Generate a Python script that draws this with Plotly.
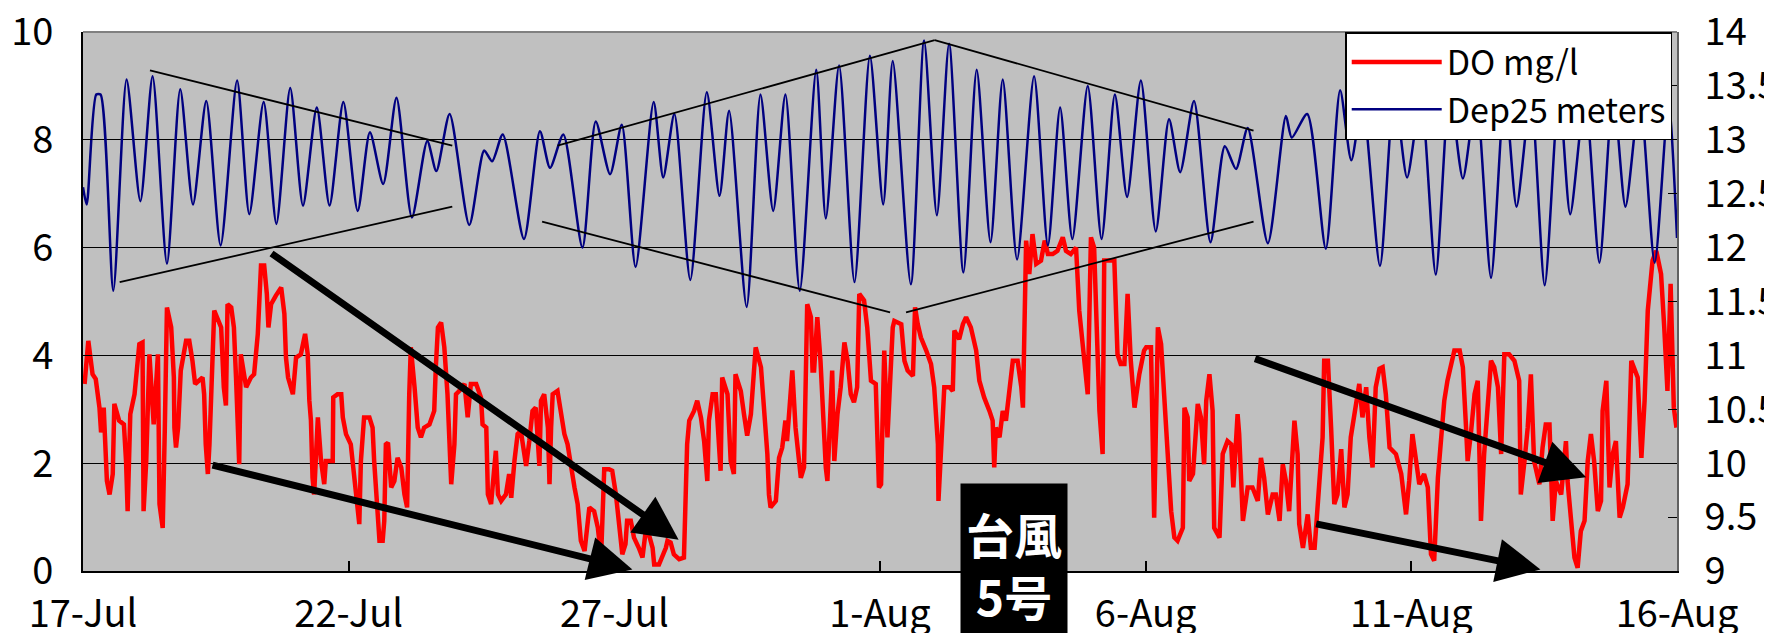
import numpy as np
import pandas as pd
import plotly.graph_objects as go

BASE = pd.Timestamp("2005-07-17")

# ---- DO (mg/l), left axis: (day offset from 17-Jul, value)
do_day = [0.03,0.10,0.14,0.18,0.24,0.28,0.31,0.34,0.39,0.41,0.45,0.50,0.56,0.59,0.68,0.77,0.81,0.84,0.89,0.97,
1.03,1.06,1.12,1.14,1.19,1.22,1.25,1.33,1.41,1.44,1.50,1.54,1.58,1.66,1.71,1.72,1.75,1.79,1.84,1.94,
2.00,2.06,2.11,2.25,2.28,2.31,2.35,2.38,2.41,2.44,2.47,2.60,2.61,2.65,2.69,2.72,2.79,2.84,2.88,2.94,
2.97,3.04,3.07,3.16,3.22,3.29,3.32,3.35,3.41,3.46,3.49,3.54,3.63,3.73,3.79,3.82,3.86,3.95,4.01,4.10,
4.18,4.23,4.26,4.29,4.32,4.35,4.42,4.48,4.54,4.57,4.70,4.71,4.79,4.86,4.89,4.95,
5.04,5.14,5.20,5.23,5.29,5.39,5.45,5.48,5.53,5.58,5.64,5.67,5.70,5.74,5.80,5.86,5.92,5.99,6.05,6.10,
6.14,6.17,6.24,6.30,6.36,6.42,6.52,6.61,6.64,6.68,6.74,6.80,6.86,6.89,6.93,6.99,7.02,7.08,7.18,7.24,
7.30,7.40,7.49,7.52,7.59,7.62,7.68,7.77,7.81,7.87,7.96,8.02,8.06,8.12,8.18,8.24,8.34,8.40,8.46,8.52,
8.59,8.62,8.68,8.75,8.78,8.81,8.84,8.93,9.00,9.06,9.12,9.18,9.25,9.31,9.37,9.44,9.53,9.62,9.69,9.75,
9.78,9.81,9.90,9.96,10.03,10.09,10.15,10.21,10.24,10.31,10.37,10.46,10.53,10.59,10.65,10.72,10.75,10.84,10.90,10.97,
11.00,11.06,11.12,11.22,11.31,11.34,11.37,11.41,11.50,11.56,11.63,11.69,11.75,11.78,11.85,11.91,11.97,12.00,12.03,12.13,
12.19,12.25,12.28,12.38,12.44,12.50,12.57,12.63,12.66,12.76,12.82,12.88,12.91,12.94,13.04,13.10,13.16,13.22,13.25,13.32,
13.35,13.41,13.47,13.51,13.57,13.60,13.63,13.70,13.73,13.76,13.82,13.88,13.91,13.98,14.01,14.07,14.10,14.14,14.20,14.26,
14.33,14.39,14.45,14.51,14.57,14.61,14.70,14.76,14.83,14.92,14.95,14.98,
15.02,15.05,15.08,15.14,15.18,15.24,15.27,15.33,15.40,15.46,15.52,15.62,15.66,15.71,15.77,15.87,15.96,16.02,16.09,16.10,
16.15,16.21,16.31,16.37,16.40,16.49,16.56,16.62,16.71,16.81,16.87,16.96,17.06,17.12,17.15,17.18,17.25,17.31,17.37,17.43,
17.50,17.59,17.66,17.69,17.72,17.75,17.81,17.87,17.94,18.03,18.10,18.16,18.25,18.34,18.44,18.50,18.59,18.69,18.75,18.81,
18.91,18.97,19.03,19.13,19.19,19.22,19.32,19.41,19.47,19.53,19.60,19.63,19.66,19.72,19.79,19.88,19.97,
20.01,20.10,20.16,20.23,20.29,20.35,20.41,20.48,20.54,20.60,20.70,20.73,20.79,20.82,20.89,20.95,20.98,21.04,21.10,21.14,
21.20,21.26,21.29,21.39,21.45,21.54,21.61,21.65,21.73,21.76,21.83,21.92,22.01,22.11,22.17,22.23,22.30,22.39,22.45,22.52,
22.58,22.64,22.70,22.80,22.86,22.89,22.96,23.05,23.11,23.18,23.21,23.27,23.33,23.36,23.43,23.49,23.55,23.61,23.68,23.74,
23.80,23.86,23.93,24.02,24.08,24.15,24.21,24.27,24.33,24.40,24.46,24.52,24.59,24.71,24.81,24.90,24.96,25.02,
25.09,25.15,25.24,25.31,25.37,25.43,25.50,25.56,25.62,25.68,25.75,25.81,25.91,25.97,26.03,26.06,26.12,26.19,26.25,26.31,
26.37,26.44,26.50,26.56,26.63,26.69,26.75,26.84,26.94,27.03,27.06,27.13,27.19,27.25,27.31,27.41,27.47,27.53,27.60,27.66,
27.72,27.82,27.91,27.94,28.01,28.07,28.13,28.19,28.26,28.32,28.38,28.44,28.51,28.57,28.60,28.67,28.73,28.79,28.85,28.92,
28.98,29.07,29.14,29.26,29.33,29.39,29.45,29.54,29.61,29.70,29.76,29.82,29.88,29.94,29.99]
do_val = [3.47,4.27,3.96,3.65,3.56,3.28,3.03,2.57,3.03,2.57,1.67,1.42,1.80,3.10,2.79,2.72,2.04,1.11,2.91,3.28,
4.02,4.21,4.24,1.11,2.04,3.53,4.02,2.72,4.02,1.24,0.80,2.66,4.89,4.52,3.59,2.66,2.29,2.66,3.72,4.27,
4.27,3.90,3.47,3.59,3.28,2.35,1.80,2.35,3.28,4.33,4.83,4.52,4.21,3.41,3.07,4.95,4.89,4.52,3.59,1.98,
4.02,3.59,3.41,3.59,3.65,4.40,5.26,5.67,5.67,5.14,4.52,4.95,5.11,5.26,4.77,3.96,3.59,3.28,3.96,4.02,
4.40,4.02,3.16,2.79,1.73,1.42,2.85,2.04,1.61,2.04,2.04,3.22,3.28,3.28,2.85,2.54,
2.35,1.42,0.87,2.04,2.85,2.85,2.66,2.04,1.24,0.56,0.56,0.93,2.35,2.38,1.55,1.67,2.10,1.92,1.42,1.18,
3.28,4.15,3.41,2.66,2.48,2.66,2.72,2.97,3.78,4.52,4.61,4.15,3.28,2.29,1.61,2.35,3.28,3.34,3.47,2.85,
3.47,3.47,3.22,2.72,2.66,1.42,1.24,2.23,1.42,1.30,1.42,1.80,1.36,2.04,2.54,2.60,1.95,2.41,2.97,3.03,
1.95,3.16,3.28,2.66,1.61,2.66,3.28,3.34,2.97,2.54,2.35,1.92,1.55,1.24,0.56,0.37,1.18,1.11,0.80,0.25,
1.42,1.89,1.89,1.86,1.42,0.80,0.31,0.50,0.93,0.93,0.62,0.43,0.25,0.74,0.68,0.43,0.12,0.12,0.25,0.43,
0.56,0.53,0.31,0.22,0.25,1.11,2.35,2.79,2.97,3.16,2.85,2.41,1.67,2.79,3.28,3.28,2.41,1.86,3.59,3.28,
2.04,1.80,3.65,3.34,2.91,2.51,2.91,3.90,4.15,3.78,2.97,2.17,1.42,1.18,1.30,2.10,2.29,2.79,2.41,3.41,
3.72,2.66,2.04,1.73,1.92,3.28,4.95,4.71,3.72,3.72,4.71,3.90,3.28,1.92,1.67,2.91,3.72,2.04,2.91,3.41,
4.24,3.90,3.28,3.13,3.41,5.14,5.02,4.52,3.53,3.47,2.66,1.55,
1.61,2.66,4.09,2.48,3.28,4.52,4.64,4.61,4.58,3.90,3.72,3.62,4.89,4.58,4.33,4.09,3.84,3.41,2.35,1.30,
2.35,3.41,3.41,3.34,4.46,4.30,4.58,4.71,4.52,4.09,3.53,3.22,2.97,2.79,1.92,2.66,2.48,2.97,2.79,3.28,
3.90,3.90,3.41,3.03,4.64,6.13,5.51,6.25,5.70,5.76,6.13,5.88,5.88,5.94,6.19,5.94,5.88,6.00,4.83,4.21,
3.28,6.19,6.00,2.97,2.17,5.76,5.76,5.76,4.02,3.84,3.84,4.64,5.14,3.90,3.03,3.65,4.09,
4.15,4.15,0.99,4.52,4.21,3.28,2.41,1.11,0.62,0.56,0.80,3.03,2.85,1.67,1.80,2.66,3.10,2.85,1.98,3.16,
3.65,2.97,0.80,0.62,2.17,2.41,2.35,1.55,2.91,2.54,0.93,1.55,1.55,1.30,2.10,1.73,1.05,1.42,1.42,0.93,
1.98,1.67,1.11,2.79,2.17,0.87,0.43,1.05,0.43,0.43,0.80,1.61,2.48,3.90,3.90,2.66,1.24,1.42,2.26,1.18,
1.42,2.48,2.91,3.47,2.85,3.41,2.48,1.92,3.41,3.75,3.78,3.28,2.29,2.17,1.80,1.05,1.67,2.54,
2.04,1.61,1.80,1.55,0.31,0.19,1.73,2.35,3.16,3.53,3.84,4.09,4.09,3.78,2.66,2.04,2.54,3.28,3.53,0.93,
2.17,3.28,3.90,3.78,3.41,2.17,4.02,4.02,3.90,3.53,1.42,2.04,2.66,3.65,2.04,1.61,2.29,2.72,2.72,0.93,
1.67,1.42,2.41,1.67,0.93,0.25,0.06,0.74,0.93,2.04,2.54,2.04,1.11,1.30,2.97,3.53,1.55,2.17,2.41,0.99,
1.18,1.61,3.90,3.59,2.10,3.16,4.83,5.76,5.94,5.51,4.52,3.34,5.33,3.03,2.66]

# ---- Dep25 (meters), right axis: tidal highs and lows (day offset, value)
dep_day = [0.00,0.07,0.25,0.33,0.57,0.82,1.08,1.31,1.58,1.83,2.07,2.32,2.59,2.90,3.13,3.40,3.64,3.90,4.14,4.40,
4.64,4.90,5.17,5.40,5.65,5.90,6.19,6.48,6.65,6.90,7.27,7.55,7.70,7.90,8.30,8.60,8.79,9.04,9.40,9.65,
9.92,10.14,10.40,10.74,10.92,11.13,11.43,11.74,11.98,12.16,12.49,12.75,12.99,13.22,13.49,13.80,13.98,14.23,14.52,14.81,
15.06,15.24,15.58,15.83,16.07,16.30,16.57,16.82,17.08,17.31,17.58,17.90,18.16,18.39,18.62,18.91,19.17,19.42,19.65,19.91,
20.19,20.44,20.65,20.91,21.22,21.49,21.70,21.92,22.30,22.64,22.75,23.04,23.39,23.66,23.87,24.08,24.41,24.68,24.92,25.18,
25.46,25.72,25.97,26.22,26.50,26.76,26.98,27.25,27.51,27.78,27.99,28.27,28.54,28.80,29.03,29.30,29.58,29.84,30.00]
dep_val = [12.56,12.40,13.42,13.42,11.60,13.56,12.43,13.59,11.85,13.47,12.40,13.36,12.02,13.55,12.31,13.35,12.22,13.48,12.39,13.30,
12.39,13.35,12.34,13.07,12.59,13.39,12.28,12.99,12.71,13.24,12.21,12.90,12.80,13.05,12.08,13.08,12.74,13.05,12.00,13.17,
12.68,13.14,11.82,13.35,12.65,13.24,11.70,13.44,12.48,13.27,11.45,13.42,12.34,13.42,11.60,13.65,12.27,13.69,11.68,13.78,
12.40,13.73,11.66,13.92,12.30,13.89,11.77,13.65,12.05,13.56,11.89,13.59,12.02,13.30,12.08,13.50,12.08,13.42,12.47,13.55,
12.15,13.19,12.70,13.36,12.05,12.94,12.73,13.11,12.04,13.22,13.02,13.24,11.99,13.46,12.81,13.35,11.83,13.45,12.65,13.40,
11.75,13.45,12.64,13.40,11.72,13.45,12.38,13.40,11.65,13.45,12.31,13.40,11.86,13.45,12.38,13.40,11.86,13.35,12.09]

tick_days = [0, 5, 10, 15, 20, 25, 30]
tick_labels = ["17-Jul", "22-Jul", "27-Jul", "1-Aug", "6-Aug", "11-Aug", "16-Aug"]
left_ticks = [0, 2, 4, 6, 8, 10]
right_ticks = [9, 9.5, 10, 10.5, 11, 11.5, 12, 12.5, 13, 13.5, 14]
right_labels = ["9", "9.5", "10", "10.5", "11", "11.5", "12", "12.5", "13", "13.5", "14"]

# annotation guide lines (day0, DO0, day1, DO1) on the DO axis
guide_lines = [(1.26, 9.29, 6.95, 7.89), (0.69, 5.36, 6.95, 6.76),
               (8.93, 7.89, 16.03, 9.85), (16.03, 9.85, 22.03, 8.17),
               (8.64, 6.48, 15.19, 4.80), (15.49, 4.80, 22.03, 6.48)]
# thick arrows (tail day, tail DO, head day, head DO)
arrows = [(3.52, 5.91, 11.21, 0.58), (2.41, 1.97, 10.34, 0.03),
          (22.03, 3.95, 28.29, 1.74), (23.18, 0.88, 27.43, 0.03)]


def to_dt(days):
    return BASE + pd.to_timedelta(np.asarray(days, dtype=float), unit="D")


FONT = "Noto Sans CJK JP"

fig = go.Figure()
fig.add_trace(go.Scatter(x=to_dt(do_day), y=do_val, name="DO mg/l", mode="lines",
                         line=dict(color="#FF0000", width=4.5)))
fig.add_trace(go.Scatter(x=to_dt(dep_day), y=dep_val, name="Dep25 meters", mode="lines",
                         line=dict(color="#000080", width=2.5, shape="spline", smoothing=0.7),
                         yaxis="y2"))

shapes = []
for d0, v0, d1, v1 in guide_lines:
    shapes.append(dict(type="line", xref="x", yref="y", x0=to_dt([d0])[0], y0=v0,
                       x1=to_dt([d1])[0], y1=v1, line=dict(color="black", width=1.8), layer="above"))
shapes.append(dict(type="line", xref="paper", yref="paper", x0=0, y0=1, x1=1, y1=1,
                   line=dict(color="#808080", width=2)))

annotations = []
for d0, v0, d1, v1 in arrows:
    annotations.append(dict(x=to_dt([d1])[0], y=v1, ax=to_dt([d0])[0], ay=v0,
                            xref="x", yref="y", axref="x", ayref="y", text="",
                            showarrow=True, arrowhead=2, arrowwidth=7, arrowsize=1.25,
                            arrowcolor="black", standoff=0))
annotations.append(dict(xref="paper", yref="paper", x=0.584, y=0.163, xanchor="center",
                        yanchor="top", text="<b>台風<br>5号</b>", showarrow=False,
                        font=dict(family=FONT, size=48, color="white"), bgcolor="black",
                        width=106, height=160, borderpad=0, valign="middle", align="center"))

fig.update_layout(
    width=1772, height=633,
    margin=dict(l=75, r=103, t=24, b=70),
    paper_bgcolor="white", plot_bgcolor="#C0C0C0",
    font=dict(family=FONT, size=38, color="black"),
    showlegend=True,
    legend=dict(x=0.997, y=1.0, xanchor="right", yanchor="top", bgcolor="white",
                bordercolor="black", borderwidth=1.5, font=dict(size=34, family=FONT),
                itemwidth=90, tracegroupgap=0),
    xaxis=dict(type="date", range=[to_dt([0])[0], to_dt([30])[0]],
               tickvals=list(to_dt(tick_days)), ticktext=tick_labels,
               ticks="inside", ticklen=10, tickcolor="black", tickwidth=1.5,
               showline=True, linecolor="black", linewidth=2, showgrid=False,
               ticklabelstandoff=8, automargin=False, ticklabeloverflow="allow"),
    yaxis=dict(range=[0, 10], tickvals=left_ticks, ticktext=[str(v) for v in left_ticks],
               ticks="inside", ticklen=9, tickcolor="black",
               showline=True, linecolor="black", linewidth=2, showgrid=True,
               gridcolor="black", gridwidth=1, zeroline=False,
               ticklabelstandoff=20, automargin=False, ticklabeloverflow="allow"),
    yaxis2=dict(range=[9, 14], tickvals=right_ticks, ticktext=right_labels,
                overlaying="y", side="right", ticks="inside",
                ticklen=9, tickcolor="black", showline=True, linecolor="#606060", linewidth=2,
                showgrid=False, zeroline=False, ticklabelstandoff=18, automargin=False,
                ticklabeloverflow="allow"),
    shapes=shapes, annotations=annotations,
)

fig.write_html("out.html")
